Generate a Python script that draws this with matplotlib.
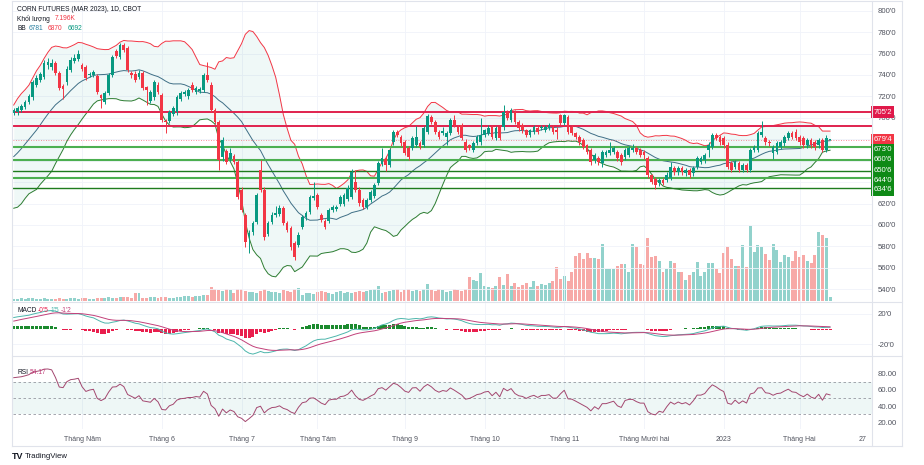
import numpy as np
import matplotlib
matplotlib.use("Agg")
import matplotlib.pyplot as plt
import matplotlib.transforms as mtrans
from matplotlib.lines import Line2D

plt.rcParams['font.family'] = ['Liberation Sans', 'DejaVu Sans']

# ---------------- data ----------------
opens = [704.5,705,707,710,715,719,731,735,738,749,747,751,742,730,733,745,753,755,749,747,
         740,740,739,721,715,723,740,762,757,768,765,742,741,738,742,729,716,719,731,721,
         697.5,697,704,705,718,722,720,731,724,725,726,740,731,707,696,663,669,662,664,659,
         633,609,590,593,603,651,633,592,603,609,610,616,602,597,583,581,598,607,612,625,
         628,609,604,604,614,615,620,620,624,626,640,633,623,617,623,627,639,657,662,656,
         677,687,682,677.5,672,672,675,676.5,675,687,701,696,687,686,682,686,698,691,693,677.5,
         674.75,670,676.5,677,684,686,691.5,681,691.5,691.5,705.5,698,705.5,696,693,688.75,684,687,690.5,690.5,
         688.75,690.5,691.5,689,702.75,695,700.75,691.5,686,682,679.25,674.75,670,660.75,662.5,658,665.25,667.25,668,668,
         665.25,663.5,665.25,670,672,670,668,662.5,646.75,643,639,642,642,644,653,649.5,653,648.5,651.25,648.5,
         654,658.75,660.75,670,672.75,684,682,681.25,674.75,658,654,658,651.25,656,651.25,670,670,684,681.25,677.5,
         667.25,668,672.75,676.5,681.25,686,686.75,682,681.25,674.75,679.25,677.5,674.75,679.25,670,679.5]
highs = [709,711,713,717,722,735,740,743,754,756,755,753,744,732,748,757,760,763,751,749,
         743,745,741,722,725,742,759,764,770,770,767,744,744,745,744,730,726,735,733,723,
         699,707,711,721,725,726,728,733,730,729,742,752,733,709,698,682,671,672,666,661,
         635,611,595,604,630,660.5,635,604,612,618,619,618,604,599,585,593,609,613,628,640,
         630,611,606,616,619,619,628,630,637,652,651,635,625,625,633,639,660,672,664,672,
         689,689,684,679,674,683,692,678,692,704,703,698,689,691,688,700,703,693,695,680,
         676,678,684,700,690,693,693,692,693,712,707,709,707,698,695,690,690,693,692,693,
         693,695,693,691,704,704,703,693,687,684,681,676,672,667,664,670,670,677,674,670,
         667,672,674,676,674,672,670,664,648,645,644,644,649,659,655,655,655,653,653,655,
         664,664,667,677,686,686,684,683,677,660,661,660,658,658,672,675,688,697,683,679,
         675,678,679,684,688,688,690,684,683,681,681,679,681,681,684,680.5]
lows = [703,703,705,708,713,717,729,733,736,746,745,740,726,718,731,743,751,753,744,735,
        738,738,722,709,713,721,738,756,755,761,743,737,733,736,726,712,714,717,722,696,
        686,695,702,703,716,720,718,724,722,723,724,733,705,694,651,660,657,660,657,624,
        612,579.5,574,591,601,631,586,590,601,607,608,600,593,577,567,579,596,605,610,623,
        615,603,596,602,612,613,618,618,622,624,631,618,615,615,621,625,637,655,650,654,
        675,682,674,665,661,670,673,671,673,685,694,685,680,684,675,684,691,685,679,668,
        670,668,675,675,682,684,680,679,679,689,698,696,694,688,686,682,682,685,685,689,
        687,689,685,680,693,693,685,684,680,675,671,666,656,658,656,654,663,665,666,660,
        656,661,663,668,666,663,662,644,638,634,636,637,640,642,647,647,647,646,644,646,
        652,657,658,663,671,679,675,672,652,649,652,649,649,649,649,668,668,682,675,674,
        662,666,671,674,679,680,679,675,672,672,672,670,672,668,668,679]
closes = [707,709,711,715,720,733,737,741,751,752,751,742,728,727,746,754,756,759.5,746,737,
          741,743,724,718.5,723,740,757,758,768,763,745,740,735,742,728,726,724,733,724,698,
          696,705.5,709,719.5,723,724,726,726,728,727,740,735,707,696,661,679,659,667,659,626,
          614,584,592.5,602,628,633,589,602,609.5,611,616,602,595,579.5,570,590.5,607.5,611,626,627,
          617,605,598,614,617,617,626,628,634.5,649.5,633,620.5,617,623,630.75,637,658,662.5,656,670,
          687,684,676.5,667,663.5,681,682,673,690.5,702,696,687,682,688,686,698,693,687,681,670,
          672,676.5,682,684,688.75,690.5,682,690.5,681,705.5,700,707.25,696,690.5,688.75,684,688.75,691.5,687,691.5,
          691.5,693.25,686.75,686.75,695,702.75,686.75,686,682,677.5,672.75,668,658.75,665.25,658.75,668,668,670,672,662.5,
          658.75,670,672,672,668,665.25,665.25,646.75,640,637.25,642,639,646.75,654,649.5,653,649.5,651.25,646.75,653,
          662.5,662.5,665.25,674.75,684,681.25,677.5,674.75,654,651.25,658.75,651.25,656,651.25,670,672.75,686,686.75,677.5,676.5,
          672.75,676.5,677.5,682,686,682,681.25,677.5,674.75,679.25,674.75,672.75,679.25,670,681.25,679.5]
volumes_k = [4,4,6,4,6,6,4,4,6,4,4,4,6,4,4,
             6,6,4,6,6,4,4,6,6,6,8,6,6,8,8,8,
             6,16,16,6,6,8,8,6,8,8,6,6,8,8,
             10,10,8,10,10,12,12,28,24,22,20,24,
             22,16,24,24,20,18,18,16,20,24,20,18,18,16,22,20,18,24,26,
             12,16,16,14,18,20,18,16,14,18,20,16,18,16,18,20,18,20,22,24,
             30,16,18,20,22,24,18,22,24,20,22,20,24,34,22,
             20,24,22,18,20,24,22,20,24,48,42,40,56,30,28,
             26,30,48,32,54,30,36,28,32,36,28,40,30,34,32,
             36,40,68,44,50,40,58,90,96,84,96,86,86,
             84,114,64,64,64,70,74,74,58,114,108,74,72,126,88,90,80,58,64,80,
             76,58,58,42,52,58,78,50,58,76,76,64,56,96,108,84,70,70,112,68,
             150,98,112,108,94,82,114,102,78,92,88,80,100,88,92,80,76,92,138,132,126,7.196]
# closes before the first visible bar (estimated), only used to seed the indicators
pre_closes = [615,620,632,645,668,690,675,660,650,655,648,660,652,645,650,658,662,655,648,645,
              640,632,628,635,645,650,642,648,655,662,658,668,672,670,680,688,694,699,703]
tick_pos = [18, 39, 60, 80, 103, 124, 145, 166, 187, 207, 223.5]
tick_labels = ["Tháng Năm", "Tháng 6", "Tháng 7", "Tháng Tám", "Tháng 9", "Tháng 10",
               "Tháng 11", "Tháng Mười hai", "2023", "Tháng Hai", "27"]
red_levels = [705.25, 692.5]
green_levels = [673.0, 660.75, 650.75, 644.0, 634.75]
green_thick = [True, True, False, True, False]
last_price = 679.5
price_ticks = list(range(540, 801, 20))
hidden_ticks = [680, 660, 640]   # covered by the level tags in the reference

n = len(closes)
assert len(opens) == n and len(highs) == n and len(lows) == n and len(volumes_k) == n

# ---------------- indicators ----------------
allc = np.array(pre_closes + closes, dtype=float)
npre = len(pre_closes)
def sma(a, w):
    out = np.full(len(a), np.nan)
    for k in range(w - 1, len(a)):
        out[k] = a[k - w + 1:k + 1].mean()
    return out
def sstd(a, w):
    out = np.full(len(a), np.nan)
    for k in range(w - 1, len(a)):
        out[k] = a[k - w + 1:k + 1].std()
    return out
def ema(a, w):
    al = 2.0 / (w + 1)
    out = np.empty(len(a)); out[0] = a[0]
    for k in range(1, len(a)):
        out[k] = al * a[k] + (1 - al) * out[k - 1]
    return out
basis = sma(allc, 20)[npre:]
dev = sstd(allc, 20)[npre:]
upper = basis + 2 * dev
lower = basis - 2 * dev
macd_full = ema(allc, 12) - ema(allc, 26)
sig_full = ema(macd_full, 9)
macd = macd_full[npre:]; sig = sig_full[npre:]; hist = macd - sig
d = np.diff(allc)
up = np.clip(d, 0, None); dn = np.clip(-d, 0, None)
au = np.empty(len(d)); ad = np.empty(len(d))
au[:14] = up[:14].mean(); ad[:14] = dn[:14].mean()
for k in range(14, len(d)):
    au[k] = (au[k - 1] * 13 + up[k]) / 14
    ad[k] = (ad[k - 1] * 13 + dn[k]) / 14
rsi_full = 100 - 100 / (1 + au / ad)
rsi = rsi_full[npre - 1:]

# ---------------- figure ----------------
W, H = 924, 465
fig = plt.figure(figsize=(W / 100, H / 100), dpi=100)
fig.patch.set_facecolor('white')
def px_axes(x0, y0, x1, y1, **kw):
    return fig.add_axes([x0 / W, 1 - y1 / H, (x1 - x0) / W, (y1 - y0) / H], **kw)

XL, XR = 12.5, 872
xlim = (-0.32, 226.05)
UPC, DNC = '#089981', '#f23645'
x = np.arange(n)
colors = [UPC if c >= o else DNC for o, c in zip(opens, closes)]
GRID = '#f0f3fa'
AXC = '#50535e'
TXT = 4.8

# volume (behind)
axv = px_axes(XL, 150, XR, 300.7)
axv.set_xlim(*xlim); axv.set_ylim(0, 301.4)
vcol = ['#92d2cc' if c == UPC else '#f7a9a7' for c in colors]
axv.bar(x, volumes_k, width=0.78, color=vcol, linewidth=0)
axv.axis('off')

# main pane
MTOP, MBOT = 2, 301.5
PLO, PHI = 528.6, 808.1
ax = px_axes(XL, MTOP, XR, MBOT)
ax.set_facecolor('none')
ax.set_xlim(*xlim); ax.set_ylim(PLO, PHI)
for p in price_ticks:
    ax.axhline(p, color=GRID, lw=0.6, zorder=0)
for t in tick_pos[:-1]:
    ax.axvline(t, color=GRID, lw=0.6, zorder=0)
ax.fill_between(x, lower, upper, color='#2a9d8f', alpha=0.07, lw=0, zorder=1)
ax.plot(x, upper, color='#f23645', lw=0.7, zorder=2)
ax.plot(x, lower, color='#2e7d32', lw=0.7, zorder=2)
ax.plot(x, basis, color='#3f6f86', lw=0.7, zorder=2)
for lv in red_levels:
    ax.axhline(lv, color='#e0224e', lw=1.4, zorder=3)
for lv, th in zip(green_levels, green_thick):
    ax.axhline(lv, color='#4caf50' if th else '#1e7b1e', lw=1.5 if th else 1.0, zorder=3)
ax.axhline(last_price, color='#f23645', lw=0.6, ls=(0, (1, 2)), alpha=0.7, zorder=3)
ax.vlines(x, lows, highs, colors=colors, lw=0.7, zorder=4)
bodies = [max(abs(c - o), 0.5) for o, c in zip(opens, closes)]
ax.bar(x, bodies, bottom=np.minimum(opens, closes), width=0.72, color=colors, linewidth=0, zorder=5)
ax.yaxis.tick_right()
shown = [p for p in price_ticks if p not in hidden_ticks]
ax.set_yticks(shown)
ax.set_yticklabels([f"{p}'0" for p in shown])
ax.tick_params(axis='y', length=0, pad=4, labelsize=5.6, labelcolor=AXC)
ax.set_xticks([])
for sp in ax.spines.values():
    sp.set_visible(False)

def fmt8(p):
    w = int(p)
    return f"{w}'{int(round((p - w) * 8))}"
tr = mtrans.blended_transform_factory(ax.transAxes, ax.transData)
# price-scale tags, stacked downward so that they do not overlap (as the price scale does)
tags = [(red_levels[0], '#e0194a'), (last_price, '#f23645')] + [(lv, '#0e8a16') for lv in green_levels]
tags.sort(key=lambda t: -t[0])
px_per_price = (MBOT - MTOP) / (PHI - PLO)
min_gap = 9.6 / px_per_price
prev = None
for lv, fc in tags:
    ypos = lv if prev is None else min(lv, prev - min_gap)
    prev = ypos
    ax.text(1.0015, ypos, fmt8(lv), transform=tr, ha='left', va='center', fontsize=5.6, color='white',
            bbox=dict(boxstyle='square,pad=0.3', fc=fc, ec='none'), clip_on=False, zorder=10)

# MACD pane
axm = px_axes(XL, 302.5, XR, 355)
axm.set_xlim(*xlim); axm.set_ylim(-34.0, 35.05)
for t in tick_pos[:-1]:
    axm.axvline(t, color=GRID, lw=0.6, zorder=0)
for p in [20, -20]:
    axm.axhline(p, color=GRID, lw=0.6, zorder=0)
axm.bar(x, hist, width=0.8, color=['#1b8a2e' if h >= 0 else '#e91e4d' for h in hist], linewidth=0, zorder=2)
axm.plot(x, macd, color='#4db6ac', lw=0.7, zorder=3)
axm.plot(x, sig, color='#c2407a', lw=0.7, zorder=3)
axm.yaxis.tick_right()
axm.set_yticks([20, -20]); axm.set_yticklabels(["20'0", "-20'0"])
axm.tick_params(axis='y', length=0, pad=4, labelsize=5.6, labelcolor=AXC)
axm.set_xticks([])
for sp in axm.spines.values():
    sp.set_visible(False)

# RSI pane
axr = px_axes(XL, 356, XR, 429)
axr.set_xlim(*xlim); axr.set_ylim(12.3, 101.0)
for t in tick_pos[:-1]:
    axr.axvline(t, color=GRID, lw=0.6, zorder=0)
axr.axhspan(30, 70, color='#2a9d8f', alpha=0.08, lw=0, zorder=0)
for p in [70, 50, 30]:
    axr.axhline(p, color='#9598a1', lw=0.6, ls=(0, (3, 3)), zorder=1)
axr.plot(x, rsi, color='#a3476f', lw=0.7, zorder=3)
axr.yaxis.tick_right()
axr.set_yticks([80, 60, 40, 20]); axr.set_yticklabels(["80.00", "60.00", "40.00", "20.00"])
axr.tick_params(axis='y', length=0, pad=4, labelsize=5.6, labelcolor=AXC)
axr.set_xticks(tick_pos); axr.set_xticklabels(tick_labels)
axr.tick_params(axis='x', length=0, pad=5, labelsize=TXT + 0.2, labelcolor=AXC)
for sp in axr.spines.values():
    sp.set_visible(False)

# frame lines
def hl(y, x0=12, x1=902):
    fig.add_artist(Line2D([x0 / W, x1 / W], [1 - y / H, 1 - y / H], color='#e0e3eb', lw=0.8))
def vl(xp, y0=1, y1=446):
    fig.add_artist(Line2D([xp / W, xp / W], [1 - y0 / H, 1 - y1 / H], color='#e0e3eb', lw=0.8))
hl(1); hl(302); hl(355.5); hl(446)
vl(12); vl(872); vl(902)

# header texts
def ftxt(xp, yp, s, **kw):
    kw.setdefault('fontsize', TXT)
    fig.text(xp / W, 1 - yp / H, s, va='center', ha='left', **kw)
ftxt(17, 9.5, "CORN FUTURES (MAR 2023), 1D, CBOT", color='#131722')
ftxt(17, 19, "Khối lượng", color='#131722')
ftxt(55, 19, "7.196K", color='#f23645')
ftxt(17, 28.5, "BB", color='#131722')
ftxt(29, 28.5, "6781", color='#2a7fa0')
ftxt(48, 28.5, "6870", color='#f23645')
ftxt(68, 28.5, "6692", color='#089981')
ftxt(17, 311, "MACD", color='#131722')
ftxt(38, 311, "-0'5", color='#e91e4d')
ftxt(51, 311, "1'5", color='#4db6ac')
ftxt(61, 311, "-1'2", color='#c2407a')
ftxt(17, 373, "RSI", color='#131722')
ftxt(30, 373, "54.17", color='#c2407a')
ftxt(12, 456, "TV", color='#131722', fontweight='bold', fontsize=6.5)
ftxt(25, 456, "TradingView", color='#131722', fontsize=5.6)

fig.savefig("out.png", dpi=100, facecolor='white')
